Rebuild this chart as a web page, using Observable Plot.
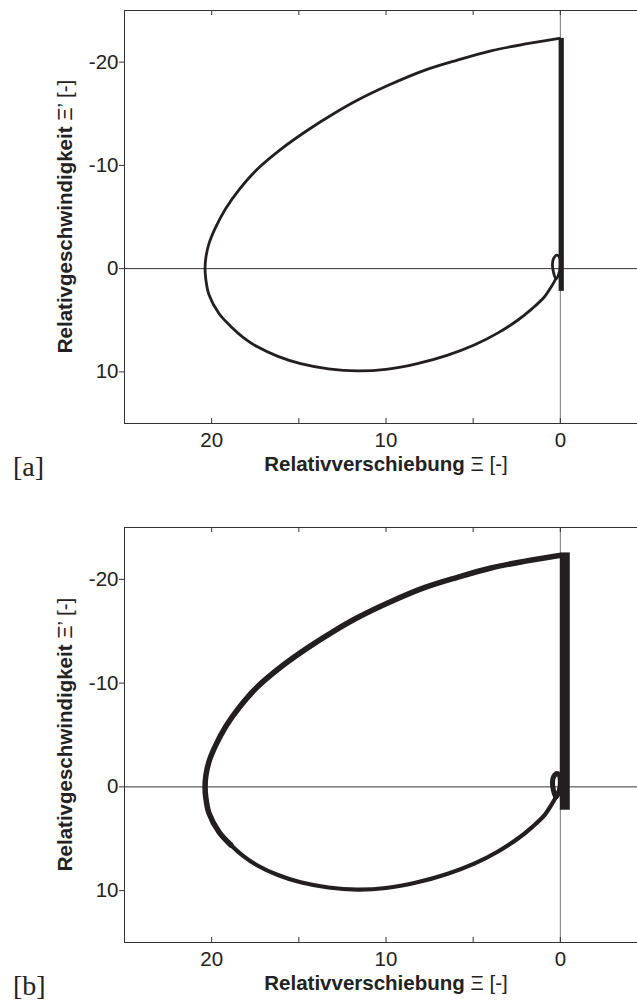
<!DOCTYPE html>
<html><head><meta charset="utf-8">
<script src="https://cdn.jsdelivr.net/npm/d3@7"></script>
<script src="https://cdn.jsdelivr.net/npm/@observablehq/plot@0.6"></script>
<style>
html,body{margin:0;padding:0;background:#fff;overflow:hidden}
svg{display:block}
</style>
</head><body>
<div id="pa"></div><div id="pb"></div>
<script>
// Upper arc of the phase trajectory (from top of stick to leftmost point)
const upperX = [0.06, 2.0, 3.98, 5.9, 7.8, 9.8, 11.65, 13.1, 14.5, 16.0, 17.4, 18.4, 19.2, 19.8, 20.16, 20.33, 20.38];
const upperY = [-22.3, -21.76, -21.1, -20.2, -19.2, -17.8, -16.3, -14.9, -13.4, -11.6, -9.6, -7.7, -5.8, -3.9, -2.4, -1.1, 0];
// Lower arc (from leftmost point back to the origin)
const lowerX = [20.38, 20.33, 20.16, 19.58, 18.9, 18.2, 17.4, 16.2, 14.9, 13.3, 11.65, 10.0, 8.2, 6.5, 4.94, 3.6, 2.45, 1.6, 0.92, 0.5, 0.25];
const lowerY = [0, 1.1, 2.5, 4.35, 5.6, 6.65, 7.55, 8.5, 9.2, 9.7, 9.9, 9.75, 9.2, 8.4, 7.4, 6.25, 5.0, 3.85, 2.75, 1.7, 0.97];
// Small loop near the origin
const loopX = [0.25, 0.4, 0.45, 0.38, 0.2, 0.05, 0.0, 0.05];
const loopY = [0.97, 0.3, -0.5, -1.0, -1.3, -1.1, -0.4, 0.3];
// Sticking phase (dense vertical band at Ξ ≈ 0)
const stickA = [{x1: 0.07, x2: -0.23, y1: -22.3, y2: 2.2}];
const stickB = [{x1: 0.0, x2: -0.57, y1: -22.55, y2: 2.25}];

const xDomain = [25, -5];
const yDomain = [-25, 15];
const xTicks = [20, 15, 10, 5, 0];
const xTickLabels = [20, 10, 0];
const yTicks = [-20, -10, 0, 10];

const pts = (xs, ys) => xs.map((x, i) => ({x, y: ys[i]}));
const upper = pts(upperX, upperY);
const lower = pts(lowerX, lowerY);
const loop = pts(loopX, loopY);
const trajectory = upper.concat(lower.slice(1));
const heavyPart = upper.concat(lower.slice(1, 5));

const INK = "#231f20";
const AX = "#333";
const SANS = "'Liberation Sans', Arial, Helvetica, sans-serif";

function panel(el, {height, marginBottom, stick, wUpper, wLower, wLoop, tag, tagY}) {
  const W = 637, ml = 124, mt = 10;
  const plotH = height - mt - marginBottom;
  const plotW = 647 - ml;
  const marks = [
    Plot.ruleY([0], {stroke: AX, strokeWidth: 1}),
    Plot.ruleX([0], {stroke: "#777", strokeWidth: 1}),
    Plot.ruleX([xDomain[0]], {stroke: AX, strokeWidth: 1}),
    Plot.ruleY(yDomain, {stroke: AX, strokeWidth: 1}),
    Plot.tickX(xTicks, {stroke: AX, insetTop: plotH - 5}),
    Plot.tickX(xTicks, {stroke: AX, insetBottom: plotH - 5}),
    Plot.tickY(yTicks, {stroke: AX, insetRight: plotW - 5}),
    Plot.axisX(xTickLabels, {anchor: "bottom", tickSize: 0, tickPadding: 9, tickFormat: d => String(d), label: null}),
    Plot.axisY(yTicks, {anchor: "left", tickSize: 0, tickPadding: 6, tickFormat: d => String(d), label: null}),
    Plot.rect(stick, {x1: "x1", x2: "x2", y1: "y1", y2: "y2", fill: INK}),
    Plot.line(trajectory, {x: "x", y: "y", stroke: INK, strokeWidth: wLower, curve: "catmull-rom", strokeLinejoin: "round"}),
    Plot.line(loop, {x: "x", y: "y", stroke: INK, strokeWidth: wLoop, curve: "catmull-rom-closed"})
  ];
  if (wUpper > wLower) {
    marks.push(Plot.line(heavyPart, {x: "x", y: "y", stroke: INK, strokeWidth: wUpper, curve: "catmull-rom"}));
  }
  const svg = Plot.plot({
    width: W, height, marginLeft: ml, marginTop: mt, marginBottom, marginRight: 0,
    style: {fontFamily: SANS, fontSize: "20.5px", color: "#222", background: "#fff"},
    x: {domain: xDomain, range: [ml, 647]},
    y: {domain: yDomain, reverse: true},
    marks
  });
  el.appendChild(svg);
  const s = d3.select(svg);
  const xl = s.append("text")
    .attr("x", 386).attr("y", mt + plotH + 48)
    .attr("text-anchor", "middle")
    .attr("font-family", SANS)
    .attr("font-size", 20.5).attr("font-weight", "bold").attr("fill", "#222");
  xl.append("tspan").text("Relativverschiebung");
  xl.append("tspan").attr("font-weight", "normal").text(" Ξ [-]");
  const yl = s.append("text")
    .attr("transform", `translate(72,${mt + plotH / 2}) rotate(-90)`)
    .attr("text-anchor", "middle")
    .attr("font-family", SANS)
    .attr("font-size", 20.5).attr("font-weight", "bold").attr("fill", "#222");
  yl.append("tspan").text("Relativgeschwindigkeit");
  yl.append("tspan").attr("font-weight", "normal").text(" Ξ’ [-]");
  s.append("text")
    .attr("x", 13).attr("y", tagY)
    .attr("text-anchor", "start")
    .attr("font-family", "'Liberation Serif', 'DejaVu Serif', serif")
    .attr("font-size", 28).attr("fill", "#222")
    .text(tag);
}

panel(document.getElementById("pa"), {height: 517, marginBottom: 94, stick: stickA, wUpper: 2.8, wLower: 2.8, wLoop: 2.8, tag: "[a]", tagY: 476});
panel(document.getElementById("pb"), {height: 483, marginBottom: 58, stick: stickB, wUpper: 5.5, wLower: 4.2, wLoop: 5, tag: "[b]", tagY: 478});
</script>
</body></html>
